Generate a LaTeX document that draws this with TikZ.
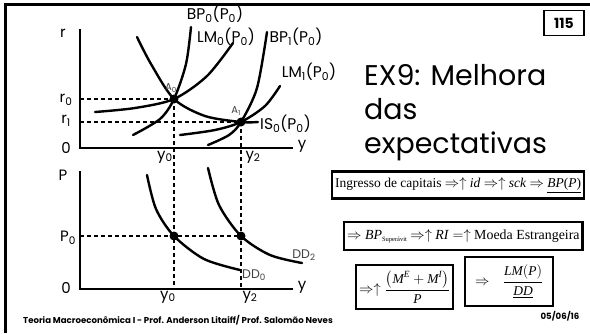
\documentclass[tikz,border=0pt]{standalone}
\usepackage{fontspec}
\usepackage{amsmath}
\setmainfont{Liberation Serif}
\newfontfamily\gothic{Poppins}
\usetikzlibrary{positioning}

\begin{document}
\begin{tikzpicture}[x=1pt, y=-1pt, line cap=round,
  axis/.style={line width=2.4pt, line cap=butt},
  curve/.style={line width=2.4pt},
  guide/.style={line width=1.5pt, line cap=butt, dash pattern=on 4pt off 3pt},
  dot/.style={circle, fill=black, inner sep=0pt, minimum size=9pt},
  lbl/.style={font=\gothic\fontsize{15.5}{15.5}\selectfont, inner sep=0pt},
  axlbl/.style={font=\gothic\fontsize{15}{15}\selectfont, inner sep=0pt},
  small/.style={font=\gothic\fontsize{10}{10}\selectfont, inner sep=0pt, text=black!75},
  eqbox/.style={draw, line width=2.3pt, inner xsep=3pt, inner ysep=3pt, font=\fontsize{13.5}{15}\selectfont}]

  \useasboundingbox (0,0) rectangle (590,333);

  % slide frame
  \draw[line width=3pt, line cap=butt] (5,333) -- (5,4) -- (590,4);

  % Upper graph: IS-LM-BP
  \coordinate (O1) at (80,148);
  \coordinate (rtop) at (80,29);
  \coordinate (yend1) at (293,148);
  \coordinate (A0) at (174,99);
  \coordinate (A1) at (241,122);

  % Lower graph: DD
  \coordinate (O2) at (80,289);
  \coordinate (Ptop) at (80,171);
  \coordinate (yend2) at (293,289);
  \coordinate (B0) at (174,236);
  \coordinate (B2) at (241,236);

  % guide lines
  \draw[guide] (A0 -| O1) -- (A0);
  \draw[guide] (A1 -| O1) -- (A1);
  \draw[guide] (B2 -| O2) -- (B2);
  \draw[guide] (A0) -- (A0 |- O2);
  \draw[guide] (A1) -- (A1 |- O2);

  % axes
  \draw[axis] (rtop) -- (O1) -- (yend1);
  \draw[axis] (Ptop) -- (O2) -- (yend2);

  % curves
  \draw[curve] plot[smooth] coordinates {(137,37) (151,64) (174,99) (205,116) (241,122) (258,122)};
  \draw[curve] plot[smooth] coordinates {(95,112) (135,108) (174,99) (207,76) (233,43)};
  \draw[curve] plot[smooth] coordinates {(133,135) (160,119) (174,99) (186,64) (191,27)};
  \draw[curve] plot[smooth] coordinates {(180,135) (215,130) (241,122) (265,106) (280,86)};
  \draw[curve] plot[smooth] coordinates {(208,145) (229,135) (241,122) (257,88) (267,32)};
  \draw[curve] plot[smooth] coordinates {(147,175) (156,209) (174,236) (204,259) (240,270)};
  \draw[curve] plot[smooth] coordinates {(208,168) (219,205) (241,236) (270,255) (302,263)};

  % equilibrium points
  \foreach \p in {A0,A1,B0,B2}
    \node (n\p) [dot] at (\p) {};

  % axis labels
  \node (lr) [axlbl] at (63,33) {r};
  \node (ly1) [axlbl] at (302,146) {y};
  \node (l01) [axlbl] at (66,148) {0};
  \node (lr0) [axlbl] at (66,100) {r\textsubscript{0}};
  \node (lr1) [axlbl] at (66,121) {r\textsubscript{1}};
  \node (ly0a) [axlbl] at (165,157) {y\textsubscript{0}};
  \node (ly2a) [axlbl] at (253,157) {y\textsubscript{2}};
  \node (lP) [axlbl] at (63,175) {P};
  \node (lP0) [axlbl] at (68,238) {P\textsubscript{0}};
  \node (ly2) [axlbl] at (302,287) {y};
  \node (l02) [axlbl] at (66,288) {0};
  \node (ly0b) [axlbl] at (168,297) {y\textsubscript{0}};
  \node (ly2b) [axlbl] at (250,297) {y\textsubscript{2}};

  % curve labels
  \node (lBP0) [lbl] at (215,14) {BP\textsubscript{0}(P\textsubscript{0})};
  \node (lLM0) [lbl] at (226,37) {LM\textsubscript{0}(P\textsubscript{0})};
  \node (lBP1) [lbl] at (296,37) {BP\textsubscript{1}(P\textsubscript{0})};
  \node (lLM1) [lbl] at (309,72) {LM\textsubscript{1}(P\textsubscript{0})};
  \node (lIS0) [lbl, anchor=west] at (260,124) {IS\textsubscript{0}(P\textsubscript{0})};
  \node (lA0) [small] at (171,88) {A\textsubscript{0}};
  \node (lA1) [small] at (236,111) {A\textsubscript{1}};
  \node (lDD0) [small, font=\gothic\fontsize{12.5}{12.5}\selectfont, anchor=west] at (242,275) {DD\textsubscript{0}};
  \node (lDD2) [small, font=\gothic\fontsize{12.5}{12.5}\selectfont] at (304,255) {DD\textsubscript{2}};

  % slide number and title
  \node (num) [draw, line width=1.2pt, inner sep=0pt, minimum width=40pt, minimum height=25pt,
    font=\gothic\bfseries\fontsize{14}{14}\selectfont] at (564,23) {115};
  \node (title) [anchor=north west, align=left, inner sep=0pt, font=\gothic\fontsize{28.5}{34}\selectfont] at (364,64) {EX9: Melhora\\das\\expectativas};

  % chain of effects
  \node (b1) [eqbox, anchor=west, minimum height=27pt] at (331,185)
    {Ingresso de capitais $\Rightarrow\uparrow$ \textit{id} $\Rightarrow\uparrow$ \textit{sck} $\Rightarrow$ \underline{\textit{BP}(\textit{P})}};
  \node (b2) [eqbox, anchor=west, minimum height=28pt, font=\fontsize{13.9}{15}\selectfont] at (343,236)
    {$\Rightarrow$ \textit{BP}\raisebox{-0.4ex}{\fontsize{6.5}{6.5}\selectfont Superávit} $\Rightarrow\uparrow$ \textit{RI} $=\uparrow$ Moeda Estrangeira};
  \node (b3) [eqbox, anchor=north west, minimum height=44pt] at (355,264)
    {$\Rightarrow\uparrow\dfrac{\left(\textit{M}^{\textit{E}}+\textit{M}^{\textit{I}}\right)}{\textit{P}}$};
  \node (b4) [eqbox, anchor=north west, minimum height=49pt, minimum width=88pt] at (464,256)
    {$\Rightarrow$\quad$\dfrac{\textit{LM}(\textit{P})}{\underline{\textit{DD}}}$};

  % footer
  \node (foot) [anchor=west, inner sep=0pt, font=\gothic\bfseries\fontsize{8.6}{8.6}\selectfont] at (23,320)
    {Teoria Macroeconômica I - Prof. Anderson Litaiff/ Prof. Salomão Neves};
  \node (date) [inner sep=0pt, font=\gothic\bfseries\fontsize{8.6}{8.6}\selectfont] at (560,316) {05/06/16};
\end{tikzpicture}
\end{document}
